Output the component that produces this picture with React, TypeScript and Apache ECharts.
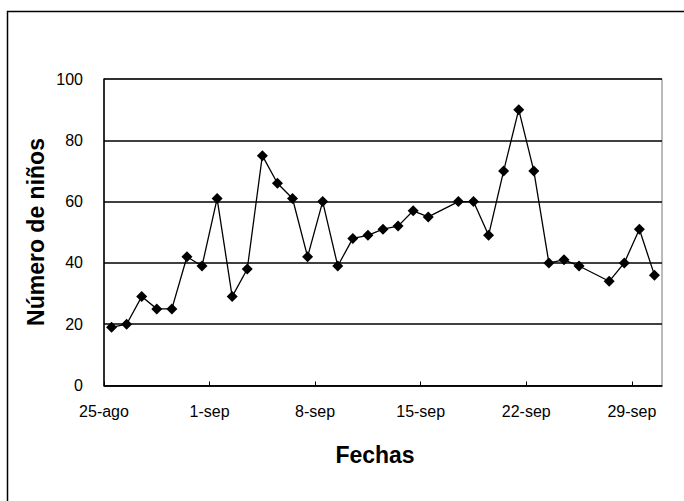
import React, { useEffect, useRef } from "react";
import * as echarts from "echarts";

// Observed dates (month-day) and number of children
const dates = [
  "08-25", "08-26", "08-27", "08-28", "08-29", "08-30", "08-31",
  "09-01", "09-02", "09-03", "09-04", "09-05", "09-06", "09-07",
  "09-08", "09-09", "09-10", "09-11", "09-12", "09-13", "09-14",
  "09-15", "09-17", "09-18", "09-19", "09-20", "09-21", "09-22",
  "09-23", "09-24", "09-25", "09-27", "09-28", "09-29", "09-30",
];
const ninos = [
  19, 20, 29, 25, 25, 42, 39,
  61, 29, 38, 75, 66, 61, 42,
  60, 39, 48, 49, 51, 52, 57,
  55, 60, 60, 49, 70, 90, 70,
  40, 41, 39, 34, 40, 51, 36,
];
const startDate = "08-25";
const endDate = "10-01";
const tickLabels = ["25-ago", "1-sep", "8-sep", "15-sep", "22-sep", "29-sep"];
const tickStepDays = 7;
const yMax = 100;
const yStep = 20;

const DAY = 86400000;
const toTime = (md: string) => new Date(`2001-${md}T00:00:00Z`).getTime();
const dayOffset = (md: string) => Math.round((toTime(md) - toTime(startDate)) / DAY);

export default function App() {
  const ref = useRef<HTMLDivElement>(null);

  useEffect(() => {
    document.body.style.margin = "0";
    if (!ref.current) return;
    const chart = echarts.init(ref.current, null, { renderer: "svg" });
    const font = "'Liberation Sans', Arial, sans-serif";
    // Excel date axis: each date is plotted in the middle of its day band
    const points = dates.map((d, i) => [dayOffset(d) + 0.5, ninos[i]]);

    chart.setOption({
      animation: false,
      backgroundColor: "#ffffff",
      textStyle: { fontFamily: font },
      grid: {
        left: 104,
        top: 79,
        right: 22,
        bottom: 115.5,
        containLabel: false,
        show: true,
        borderColor: "#777",
        borderWidth: 1,
        backgroundColor: "transparent",
      },
      xAxis: {
        type: "value",
        min: 0,
        max: dayOffset(endDate),
        interval: tickStepDays,
        axisLine: { show: true, onZero: false, lineStyle: { color: "#000", width: 1.5 } },
        axisTick: { show: true, inside: true, length: 4, lineStyle: { color: "#000", width: 1 } },
        splitLine: { show: false },
        axisLabel: {
          color: "#000",
          fontSize: 16,
          fontFamily: font,
          margin: 18,
          showMaxLabel: false,
          formatter: (v: number) => tickLabels[Math.round(v / tickStepDays)] ?? "",
        },
      },
      yAxis: {
        type: "value",
        min: 0,
        max: yMax,
        interval: yStep,
        axisLine: { show: true, lineStyle: { color: "#000", width: 1.5 } },
        axisTick: { show: false },
        splitLine: { show: true, lineStyle: { color: "#000", width: 1.5 } },
        axisLabel: { color: "#000", fontSize: 16, fontFamily: font, margin: 21 },
      },
      series: [
        {
          type: "line",
          data: points,
          symbol: "diamond",
          symbolSize: 11,
          showSymbol: true,
          lineStyle: { color: "#000", width: 1.3 },
          itemStyle: { color: "#000" },
          z: 5,
        },
      ],
      graphic: [
        {
          type: "rect",
          shape: { x: 7.5, y: 11.5, width: 720, height: 540 },
          style: { fill: "none", stroke: "#000", lineWidth: 1.5 },
          silent: true,
        },
        {
          type: "text",
          x: 36,
          y: 232,
          rotation: Math.PI / 2,
          style: {
            text: "Número de niños",
            font: `bold 23px ${font}`,
            fill: "#000",
            align: "center",
            verticalAlign: "middle",
          },
        },
        {
          type: "text",
          x: 375,
          y: 455,
          style: {
            text: "Fechas",
            font: `bold 23px ${font}`,
            fill: "#000",
            align: "center",
            verticalAlign: "middle",
          },
        },
      ],
    });

    return () => chart.dispose();
  }, []);

  return <div ref={ref} style={{ width: 684, height: 501, display: "block" }} />;
}
